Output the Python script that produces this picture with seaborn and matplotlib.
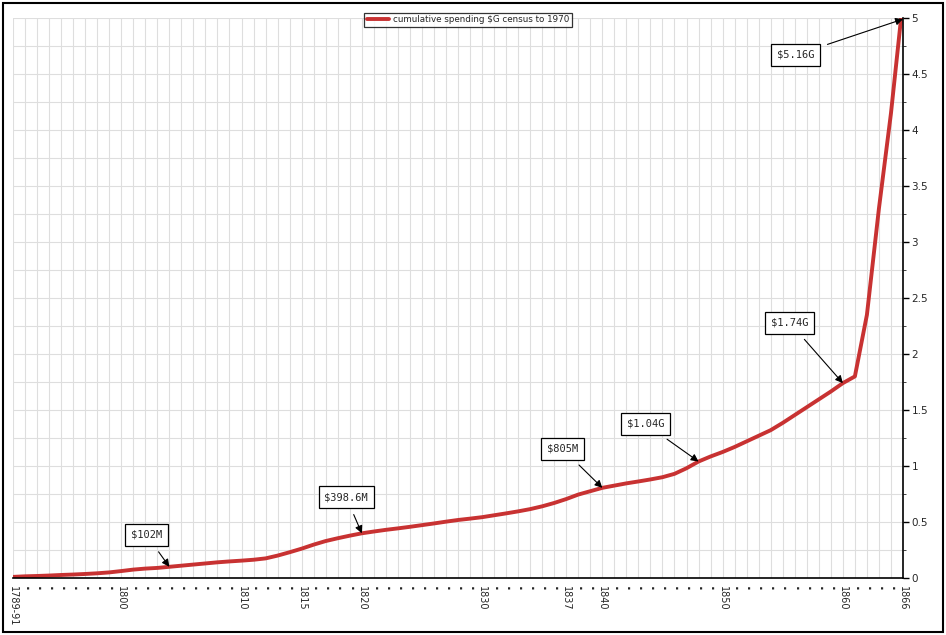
import numpy as np
import pandas as pd
import matplotlib
matplotlib.use('Agg')
import matplotlib.pyplot as plt
from matplotlib.patches import Rectangle
from matplotlib.ticker import MultipleLocator, FormatStrFormatter
import seaborn as sns

# census periods (x categories)
periods = ['1789-91'] + [str(y) for y in range(1792, 1865)] + ['1866']
shown = ['1789-91', '1800', '1810', '1815', '1820', '1830', '1837',
         '1840', '1850', '1860', '1866']

# cumulative spending in $G
spending = [0.010, 0.015, 0.018, 0.022, 0.027, 0.031, 0.036, 0.042, 0.050, 0.062,
            0.075, 0.084, 0.090, 0.100, 0.110, 0.120, 0.130, 0.140, 0.148, 0.155,
            0.163, 0.175, 0.200, 0.230, 0.262, 0.298, 0.330, 0.355, 0.378, 0.399,
            0.415, 0.430, 0.443, 0.457, 0.472, 0.487, 0.503, 0.518, 0.530, 0.543,
            0.560, 0.577, 0.595, 0.615, 0.640, 0.670, 0.705, 0.745, 0.775, 0.805,
            0.825, 0.845, 0.862, 0.880, 0.900, 0.930, 0.980, 1.040, 1.085, 1.125,
            1.170, 1.220, 1.270, 1.320, 1.385, 1.455, 1.525, 1.595, 1.665, 1.740,
            1.800, 2.350, 3.300, 4.150, 5.160]

note_labels = ['$102M', '$398.6M', '$805M', '$1.04G', '$1.74G', '$5.16G']
note_periods = ['1804', '1820', '1840', '1848', '1860', '1866']

df = pd.DataFrame({'pos': np.arange(len(periods)), 'period': periods,
                   'spending': spending})

sns.set_style('white')
fig = plt.figure(figsize=(9.46, 6.35), dpi=100)
ax = fig.add_axes([13 / 946, 1 - 578 / 635, 890 / 946, 560 / 635])

sns.lineplot(data=df, x='pos', y='spending', ax=ax, color='#c83232', lw=2.8,
             label='cumulative spending $G census to 1970')

ax.set_xlim(0, len(periods) - 1)
ax.set_ylim(0, 5)
ax.set_xlabel('')
ax.set_ylabel('')

# grid
ax.yaxis.set_major_locator(MultipleLocator(0.5))
ax.yaxis.set_minor_locator(MultipleLocator(0.25))
ax.yaxis.set_major_formatter(FormatStrFormatter('%g'))
ax.grid(True, which='both', color='#dedede', lw=0.8)
ax.set_axisbelow(True)

# x ticks: every period, labels only for some
ax.set_xticks(df['pos'])
ax.set_xticklabels([p if p in shown else '·' for p in periods],
                   rotation=-90, fontsize=7)
for lab, p in zip(ax.get_xticklabels(), periods):
    if p not in shown:
        lab.set_fontweight('bold')
        lab.set_fontsize(9)
ax.tick_params(axis='x', direction='out', length=4, width=1, pad=2, color='black')

# y axis on the right
ax.yaxis.tick_right()
ax.tick_params(axis='y', direction='out', length=4, width=1, pad=2,
               labelsize=7.5, color='black')

for s in ['left', 'top']:
    ax.spines[s].set_visible(False)
for s in ['right', 'bottom']:
    ax.spines[s].set_color('black')
    ax.spines[s].set_linewidth(1.2)

# annotations
box_pos = [(11.1, 0.384), (27.7, 0.723), (45.7, 1.152), (52.6, 1.375),
           (64.6, 2.277), (65.1, 4.67)]
for lab, per, (bx, by) in zip(note_labels, note_periods, box_pos):
    i = periods.index(per)
    ax.annotate(lab, xy=(i, min(spending[i], 4.99)), xytext=(bx, by),
                ha='center', va='center', fontsize=7.5, family='DejaVu Sans Mono',
                bbox=dict(boxstyle='square,pad=0.55', fc='white', ec='black', lw=0.9),
                arrowprops=dict(arrowstyle='-|>', color='black', lw=0.8,
                                mutation_scale=11, shrinkA=5, shrinkB=0),
                annotation_clip=False, zorder=5)

leg = ax.legend(loc='center', bbox_to_anchor=(468 / 946, 1 - 20 / 635),
                bbox_transform=fig.transFigure, fontsize=6.3, frameon=True,
                fancybox=False, borderpad=0.3, handlelength=2.6,
                handletextpad=0.4, borderaxespad=0)
leg.get_frame().set_edgecolor('black')
leg.get_frame().set_linewidth(0.9)

# outer frame
fig.patches.append(Rectangle((3 / 946, 3 / 635), 940 / 946, 629 / 635,
                             transform=fig.transFigure, fill=False,
                             ec='black', lw=1.5))

fig.savefig('out.png', dpi=100)
